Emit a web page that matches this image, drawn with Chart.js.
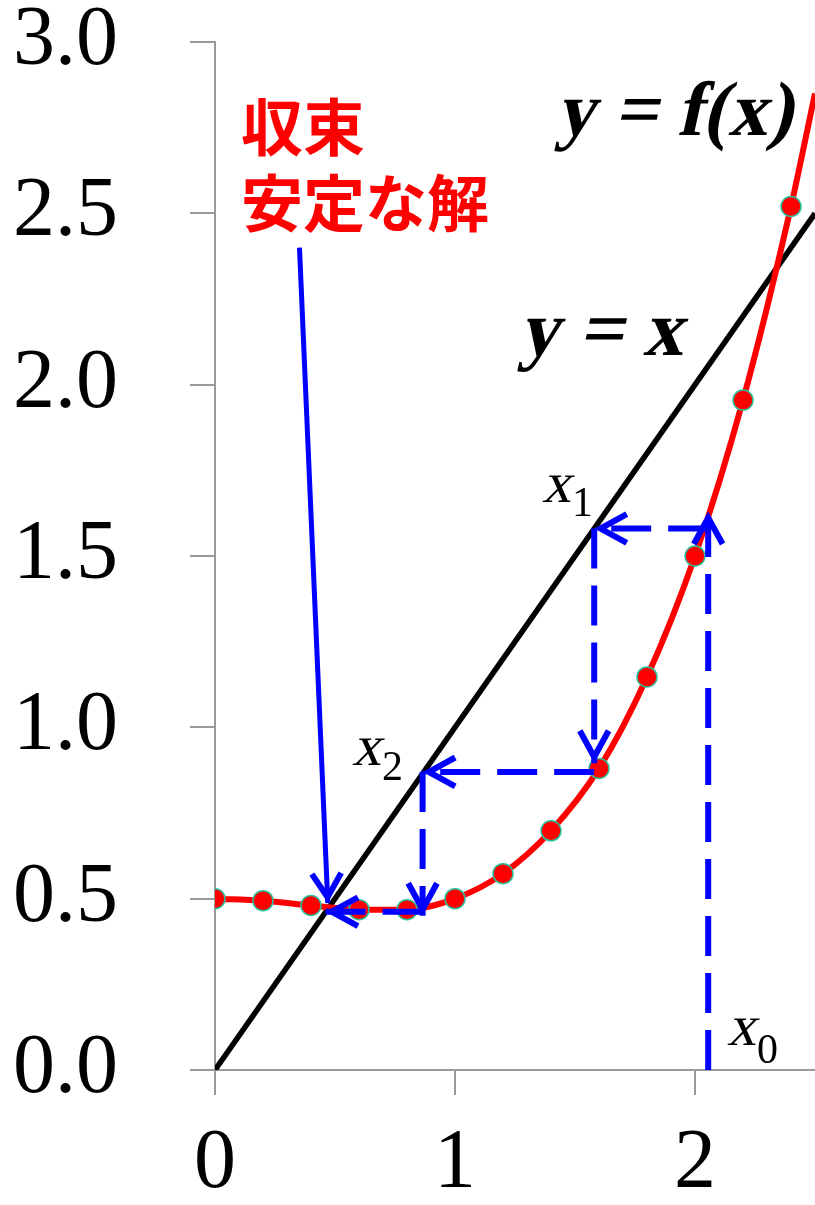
<!DOCTYPE html>
<html>
<head>
<meta charset="utf-8">
<script src="https://cdn.jsdelivr.net/npm/chart.js@4.4.1/dist/chart.umd.min.js"></script>
<style>
  html, body { margin: 0; padding: 0; background: #ffffff; overflow: hidden; }
  #c { display: block; }
</style>
</head>
<body>
<canvas id="c" width="815" height="1205"></canvas>
<script>
// Sampled points of y = f(x)
const sampleX = [0, 0.2, 0.4, 0.6, 0.8, 1.0, 1.2, 1.4, 1.6, 1.8, 2.0, 2.2, 2.4];
const sampleF = [0.50, 0.494, 0.48, 0.468, 0.468, 0.50, 0.573, 0.698, 0.88, 1.147, 1.50, 1.955, 2.52];
// Where the curve leaves the plot on the right
const tailX = [2.5];
const tailF = [2.85];
// The line y = x
const diagX = [0, 2.5];
// Axis ticks
const xTicks = [0, 1, 2];
const yTicks = [0, 0.5, 1.0, 1.5, 2.0, 2.5, 3.0];
// Fixed-point iteration steps (start -> end, arrow at end)
const stepFrom = [[2.055, 0], [2.055, 1.58], [1.58, 1.58], [1.58, 0.87], [0.865, 0.87], [0.865, 0.462]];
const stepTo   = [[2.055, 1.63], [1.58, 1.58], [1.58, 0.895], [0.865, 0.87], [0.865, 0.45], [0.46, 0.462]];
// Pointer from the caption to the stable solution
const pointerFrom = [0.352, 2.40];
const pointerTo   = [0.47, 0.487];

const RED = '#ff0000';
const BLUE = '#0000ff';
const AXIS = '#9a9a9a';
const DOT_EDGE = '#2bbf9a';
const SLANT = -0.22;

const curvePts = sampleX.map((v, i) => ({ x: v, y: sampleF[i] }))
  .concat(tailX.map((v, i) => ({ x: v, y: tailF[i] })));
const dotPts = sampleX.map((v, i) => ({ x: v, y: sampleF[i] }));
const diagPts = diagX.map(v => ({ x: v, y: v }));

const stepSets = stepFrom.map((a, i) => ({
  data: [{ x: a[0], y: a[1] }, { x: stepTo[i][0], y: stepTo[i][1] }],
  showLine: true, borderColor: BLUE, borderWidth: 6, borderDash: [40, 17],
  borderCapStyle: 'butt', pointRadius: 0, order: 0
}));

const pointerSet = {
  data: [{ x: pointerFrom[0], y: pointerFrom[1] }, { x: pointerTo[0], y: pointerTo[1] }],
  showLine: true, borderColor: BLUE, borderWidth: 5, pointRadius: 0, order: 0
};

function arrowHead(ctx, xs, ys, from, to, len, half) {
  const x1 = xs.getPixelForValue(from[0]), y1 = ys.getPixelForValue(from[1]);
  const x2 = xs.getPixelForValue(to[0]), y2 = ys.getPixelForValue(to[1]);
  const ang = Math.atan2(y2 - y1, x2 - x1);
  const back = ctx.lineWidth / 2 / Math.sin(half);
  const tx = x2 - Math.cos(ang) * back, ty = y2 - Math.sin(ang) * back;
  ctx.beginPath();
  ctx.moveTo(tx - len * Math.cos(ang - half), ty - len * Math.sin(ang - half));
  ctx.lineTo(tx, ty);
  ctx.lineTo(tx - len * Math.cos(ang + half), ty - len * Math.sin(ang + half));
  ctx.stroke();
}

// Slanted serif text drawn with a shear transform
function slanted(ctx, text, font, left, baseline) {
  ctx.save();
  ctx.translate(left, baseline);
  ctx.transform(1, 0, SLANT, 1, 0, 0);
  ctx.font = font;
  ctx.fillText(text, 0, 0);
  const w = ctx.measureText(text).width;
  ctx.restore();
  return w;
}

function subLabel(ctx, base, sub, left, baseline, subDrop) {
  const w = slanted(ctx, base, '58px "Liberation Serif"', left, baseline);
  ctx.font = '42px "Liberation Serif"';
  ctx.fillText(sub, left + w + 1, baseline + subDrop);
}

const overlay = {
  id: 'overlay',
  afterDatasetsDraw(chart) {
    const ctx = chart.ctx;
    const xs = chart.scales.x, ys = chart.scales.y;
    ctx.save();
    ctx.strokeStyle = BLUE;
    ctx.lineWidth = 6;
    ctx.lineJoin = 'miter';
    ctx.lineCap = 'butt';
    stepFrom.forEach((a, i) => arrowHead(ctx, xs, ys, a, stepTo[i], 30, 0.5));
    arrowHead(ctx, xs, ys, pointerFrom, pointerTo, 28, 0.55);

    ctx.fillStyle = '#000000';
    ctx.textAlign = 'left';
    ctx.textBaseline = 'alphabetic';
    slanted(ctx, 'y = f(x)', 'bold 77px "Liberation Serif"', 556, 135);
    slanted(ctx, 'y = x', 'bold 79px "Liberation Serif"', 519, 355);

    subLabel(ctx, 'x', '1', 542, 502, 14);
    subLabel(ctx, 'x', '2', 352, 765, 15);
    subLabel(ctx, 'x', '0', 727, 1045, 18);

    ctx.fillStyle = RED;
    ctx.font = 'bold 62px "Noto Sans CJK JP"';
    ctx.textBaseline = 'middle';
    ctx.fillText('収束', 241, 127);
    ctx.fillText('安定な解', 241, 203);
    ctx.restore();
  }
};

function fixY(scale) {
  scale.width = 215;
  scale.paddingTop = 0; scale.paddingBottom = 0;
  scale.paddingLeft = 0; scale.paddingRight = 0;
}
function fixX(scale) {
  scale.height = 135;
  scale.paddingTop = 0; scale.paddingBottom = 0;
  scale.paddingLeft = 0; scale.paddingRight = 0;
}

new Chart(document.getElementById('c'), {
  type: 'scatter',
  data: {
    datasets: stepSets.concat([
      pointerSet,
      {
        data: dotPts, showLine: false, pointRadius: 10, pointBackgroundColor: RED,
        pointBorderColor: DOT_EDGE, pointBorderWidth: 1.5, order: 1
      },
      {
        data: curvePts, showLine: true, borderColor: RED, borderWidth: 6,
        pointRadius: 0, cubicInterpolationMode: 'monotone', order: 2
      },
      {
        data: diagPts, showLine: true, borderColor: '#000000', borderWidth: 5.5,
        pointRadius: 0, order: 3
      }
    ])
  },
  options: {
    responsive: false,
    animation: false,
    events: [],
    devicePixelRatio: 1,
    layout: { autoPadding: false, padding: { top: 42, right: 0, bottom: 0, left: 0 } },
    plugins: { legend: { display: false }, tooltip: { enabled: false } },
    scales: {
      x: {
        type: 'linear', min: 0, max: 2.5,
        afterBuildTicks: s => { s.ticks = xTicks.map(v => ({ value: v })); },
        afterFit: fixX,
        grid: { drawOnChartArea: false, drawTicks: true, tickLength: 25, color: AXIS, lineWidth: 2 },
        border: { display: true, color: AXIS, width: 2 },
        ticks: {
          color: '#000000', padding: 28, maxRotation: 0, autoSkip: false,
          font: { family: '"Liberation Serif"', size: 84, lineHeight: 1 },
          callback: v => String(v)
        }
      },
      y: {
        type: 'linear', min: 0, max: 3,
        afterBuildTicks: s => { s.ticks = yTicks.map(v => ({ value: v })); },
        afterFit: fixY,
        grid: { drawOnChartArea: false, drawTicks: true, tickLength: 25, color: AXIS, lineWidth: 2 },
        border: { display: true, color: AXIS, width: 2 },
        ticks: {
          color: '#000000', padding: 72, autoSkip: false,
          font: { family: '"Liberation Serif"', size: 84, lineHeight: 1 },
          callback: v => Number(v).toFixed(1)
        }
      }
    }
  },
  plugins: [overlay]
});
</script>
</body>
</html>
